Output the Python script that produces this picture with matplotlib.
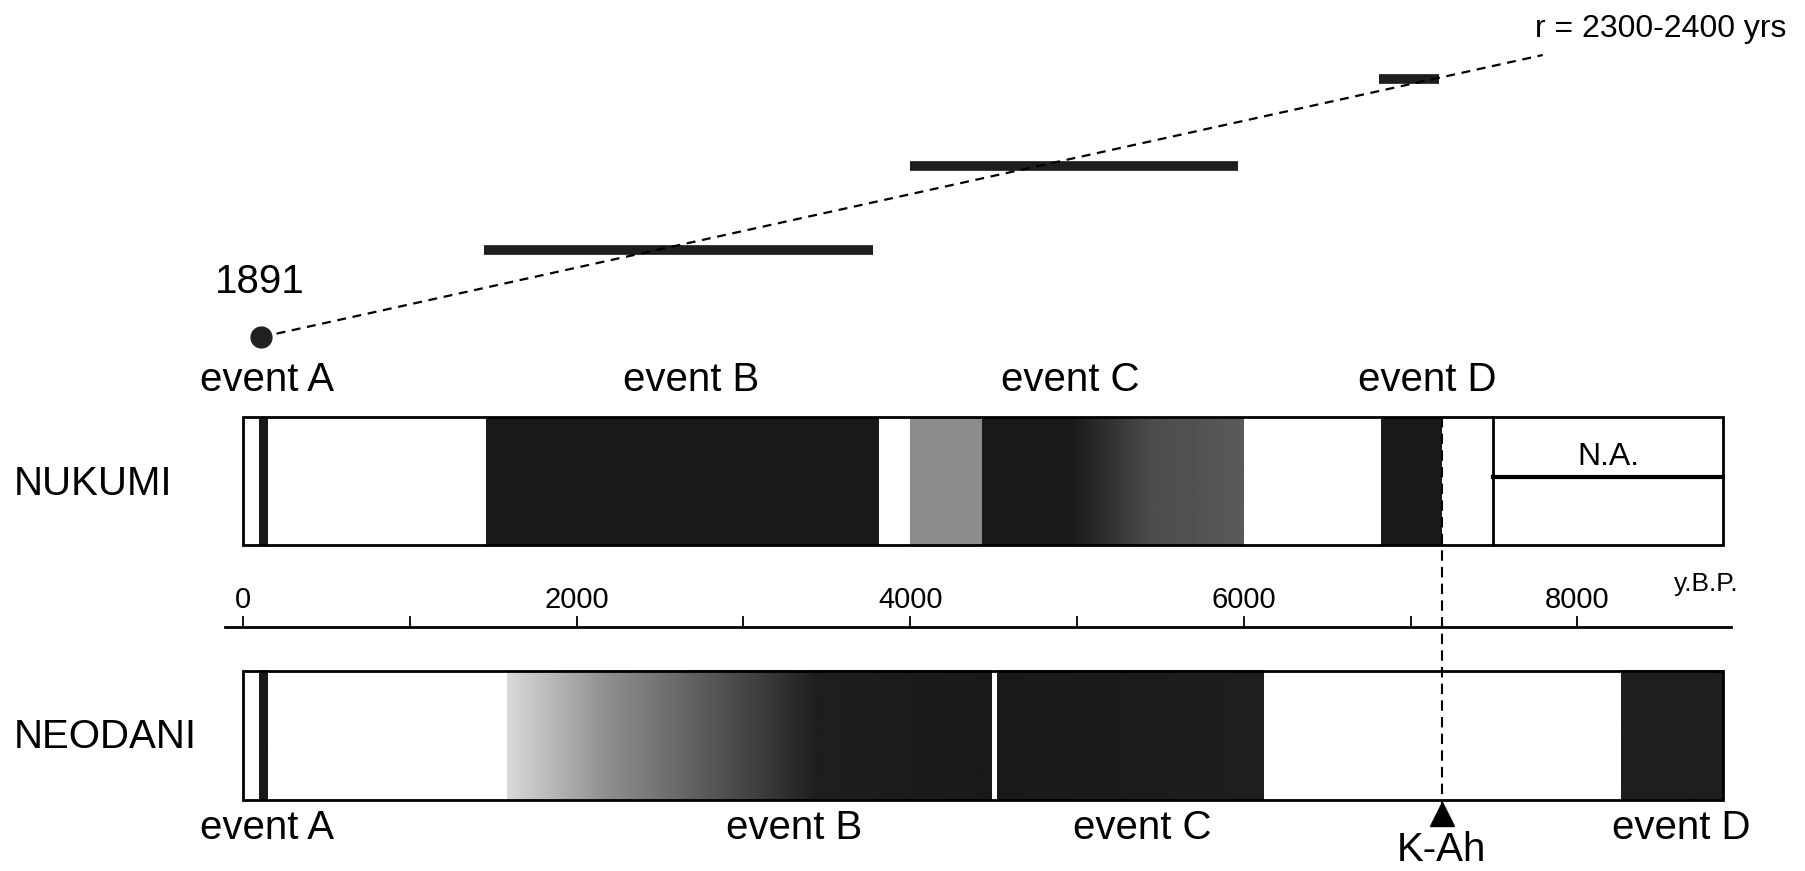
import numpy as np
import matplotlib.pyplot as plt
from matplotlib.patches import Rectangle

plt.rcParams['font.family'] = ['Liberation Sans', 'DejaVu Sans']

# --- data (years B.P.) ---
ticks = [0, 1000, 2000, 3000, 4000, 5000, 6000, 7000, 8000]
tick_labels = ['0', '', '2000', '', '4000', '', '6000', '', '8000']
record_end = 8875
na_start = 7495
kah_year = 7185
year_1891 = 110

# shaded intervals: (start, end, shade at start, shade at end) 0=black 1=white
nukumi_shades = [(97, 145, 0.1, 0.1), (1456, 3810, 0.1, 0.1), (3996, 4431, 0.55, 0.55),
                 (4431, 4950, 0.1, 0.1), (4950, 5450, 0.1, 0.3), (5450, 5997, 0.3, 0.35),
                 (6825, 7185, 0.1, 0.1)]
neodani_shades = [(97, 145, 0.1, 0.1), (1580, 2200, 0.85, 0.55), (2200, 3450, 0.55, 0.12),
                  (3450, 4493, 0.12, 0.1), (4520, 6115, 0.1, 0.12), (8260, 8875, 0.12, 0.12)]

event_ranges = [(1442, 3775), (3996, 5963), (6812, 7170)]
trend_start, trend_end = 110, 7792

top_labels = ['event A', 'event B', 'event C', 'event D']
top_label_x = [145, 2685, 4962, 7101]
bottom_labels = ['event A', 'event B', 'event C', 'event D']
bottom_label_x = [145, 3306, 5390, 8620]

# --- layout (pixel units, y downwards) ---
px0, pxs = 243, 0.16681
fig = plt.figure(figsize=(18.05, 8.71), dpi=100)
ax = fig.add_axes([0, 0, 1, 1])
big = 29


def strip(y0, y1, shades):
    for s, e, c0, c1 in shades:
        grad = np.linspace(c0, c1, 64)[None, :]
        ax.imshow(grad, extent=(s, e, y1, y0), aspect='auto', cmap='gray',
                  vmin=0, vmax=1, interpolation='bilinear', zorder=1)
    ax.add_patch(Rectangle((0, y0), record_end, y1 - y0, fill=False,
                           ec='black', lw=2, zorder=3))


nk0, nk1 = 417, 545
nd0, nd1 = 671, 800
strip(nk0, nk1, nukumi_shades)
strip(nd0, nd1, neodani_shades)

# N.A. box
ax.plot([na_start, na_start], [nk0, nk1], color='black', lw=2, zorder=3)
ax.plot([na_start, record_end], [477, 477], color='black', lw=3, zorder=3)
ax.text((na_start + record_end) / 2, 457, 'N.A.', ha='center', va='center', fontsize=23)

# time axis
ax_y = 627
ax.plot([-108, 8920], [ax_y, ax_y], color='black', lw=2)
for t, lab in zip(ticks, tick_labels):
    ax.plot([t, t], [ax_y, ax_y - 10], color='black', lw=1.3)
    if lab:
        ax.text(t, 600, lab, ha='center', va='center', fontsize=21)
ax.text(8770, 584, 'y.B.P.', ha='center', va='center', fontsize=19)

# K-Ah
ax.plot([kah_year, kah_year], [nk0, 806], color='black', lw=1.5, ls=(0, (5, 3)), zorder=4)
ax.plot([kah_year], [814], marker='^', color='black', ms=17, zorder=5)
ax.text(kah_year, 850, 'K-Ah', ha='center', va='center', fontsize=big)

# recurrence panel
bar_y = [250, 166, 79]
for (s, e), y in zip(event_ranges, bar_y):
    ax.plot([s, e], [y, y], color='#1e1e1e', lw=7, solid_capstyle='butt', zorder=2)
ax.plot([trend_start, trend_end], [337, 55], color='black', lw=1.6, ls=(0, (4, 3)), zorder=3)
ax.plot([year_1891], [337], marker='o', color='#222222', ms=15, zorder=4)
ax.text(year_1891 - 10, 282, '1891', ha='center', va='center', fontsize=big)
ax.text(trend_end - 45, 29, 'r = 2300-2400 yrs', ha='left', va='center', fontsize=23)

# labels
for lab, x in zip(top_labels, top_label_x):
    ax.text(x, 380, lab, ha='center', va='center', fontsize=big)
for lab, x in zip(bottom_labels, bottom_label_x):
    ax.text(x, 828, lab, ha='center', va='center', fontsize=big)
ax.text(-1373, 484, 'NUKUMI', ha='left', va='center', fontsize=big)
ax.text(-1373, 737, 'NEODANI', ha='left', va='center', fontsize=big)

ax.set_xlim(-px0 / pxs, (1805 - px0) / pxs)
ax.set_ylim(871, 0)
ax.axis('off')
fig.savefig('out.png', dpi=100, facecolor='white')
